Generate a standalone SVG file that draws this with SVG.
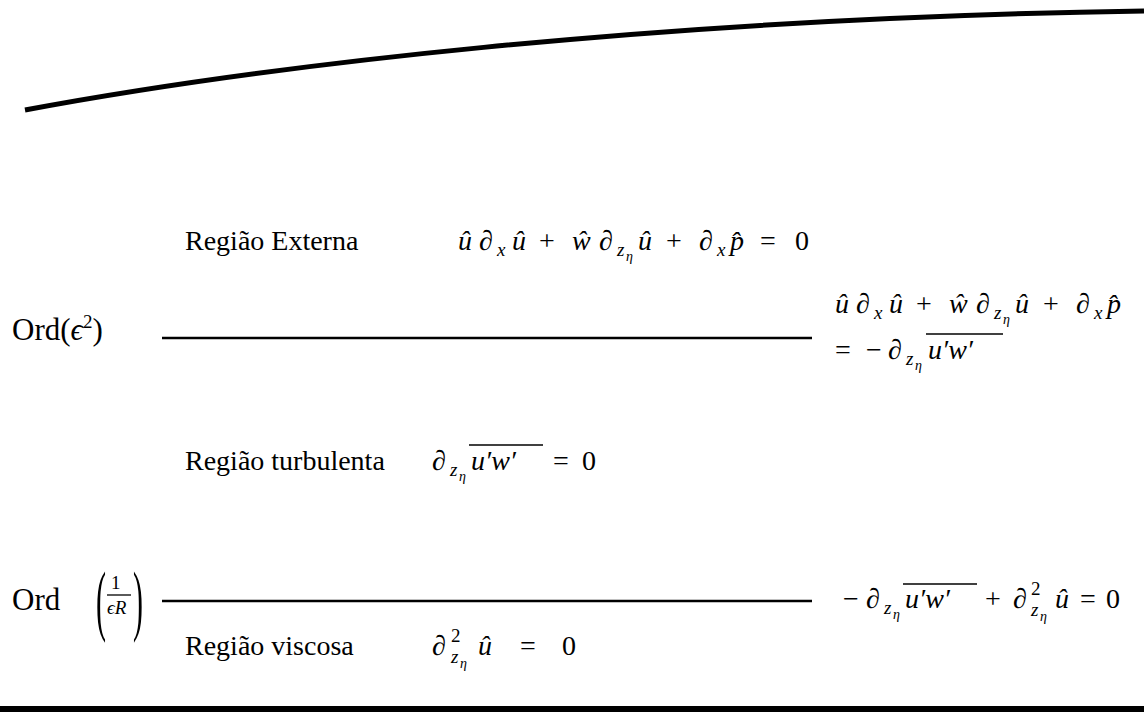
<svg xmlns="http://www.w3.org/2000/svg" width="1144" height="715" viewBox="0 0 1144 715">
<style>
text{font-family:"Liberation Serif","DejaVu Serif",serif;font-size:28px;fill:#000}
.i{font-style:italic}
.s{font-size:19px}
.ss{font-size:14px}
.f{font-size:19px}
.o{font-size:31px}
.ln{stroke:#000;fill:none}
</style>
<rect width="1144" height="715" fill="#fff"/>
<g id="connectors">
<path class="ln" d="M25,110 C250,68 650,18 1144,11" stroke-width="5"/>
<line class="ln" x1="162" y1="338" x2="812" y2="338" stroke-width="2.5"/>
<line class="ln" x1="162" y1="601" x2="812" y2="601" stroke-width="2.5"/>
<line class="ln" x1="0" y1="709" x2="1144" y2="709" stroke-width="6"/>
</g>
<g id="regiao-externa">
<text x="185" y="250">Região Externa</text>
<text y="250"><tspan class="i" x="458">û</tspan><tspan x="479">∂</tspan><tspan class="i s" x="497" y="256">x</tspan><tspan class="i" x="512" y="250">û</tspan><tspan x="539">+</tspan><tspan class="i" x="572">ŵ</tspan><tspan x="599">∂</tspan><tspan class="i s" x="617" y="256">z</tspan><tspan class="i ss" x="626" y="261">η</tspan><tspan class="i" x="638" y="250">û</tspan><tspan x="666">+</tspan><tspan x="699">∂</tspan><tspan class="i s" x="717" y="256">x</tspan><tspan class="i" x="730" y="250">p̂</tspan><tspan x="760">=</tspan><tspan x="795">0</tspan></text>
</g>
<g id="ord-eps2">
<text x="12" y="340" class="o">Ord(<tspan class="i">ϵ</tspan><tspan class="s" dy="-12">2</tspan><tspan dy="12">)</tspan></text>
</g>
<g id="eq-eps2">
<text y="313"><tspan class="i" x="835">û</tspan><tspan x="856">∂</tspan><tspan class="i s" x="874" y="319">x</tspan><tspan class="i" x="889" y="313">û</tspan><tspan x="916">+</tspan><tspan class="i" x="949">ŵ</tspan><tspan x="976">∂</tspan><tspan class="i s" x="994" y="319">z</tspan><tspan class="i ss" x="1003" y="324">η</tspan><tspan class="i" x="1015" y="313">û</tspan><tspan x="1043">+</tspan><tspan x="1076">∂</tspan><tspan class="i s" x="1094" y="319">x</tspan><tspan class="i" x="1107" y="313">p̂</tspan></text>
<text y="359"><tspan x="835">=</tspan><tspan x="866">−</tspan><tspan x="888">∂</tspan><tspan class="i s" x="906" y="365">z</tspan><tspan class="i ss" x="915" y="370">η</tspan><tspan class="i" x="928" y="359">u′w′</tspan></text>
<line class="ln" x1="926" y1="334" x2="1003" y2="334" stroke-width="1.6"/>
</g>
<g id="regiao-turbulenta">
<text x="185" y="470">Região turbulenta</text>
<text y="470"><tspan x="432">∂</tspan><tspan class="i s" x="450" y="476">z</tspan><tspan class="i ss" x="459" y="481">η</tspan><tspan class="i" x="471" y="470">u′w′</tspan><tspan x="553">=</tspan><tspan x="582">0</tspan></text>
<line class="ln" x1="469" y1="445" x2="543" y2="445" stroke-width="1.6"/>
</g>
<g id="ord-eR">
<text x="12" y="610" class="o">Ord</text>
<text transform="translate(96,626) scale(1,2.6)" style="font-size:30px">(</text>
<text x="111" y="589" class="f">1</text>
<line class="ln" x1="107" y1="595" x2="131" y2="595" stroke-width="1.3"/>
<text x="107" y="614" class="f i">ϵR</text>
<text transform="translate(133,626) scale(1,2.6)" style="font-size:30px">)</text>
</g>
<g id="eq-eR">
<text y="608"><tspan x="843">−</tspan><tspan x="866">∂</tspan><tspan class="i s" x="884" y="614">z</tspan><tspan class="i ss" x="893" y="619">η</tspan><tspan class="i" x="905" y="608">u′w′</tspan><tspan x="985">+</tspan><tspan x="1013">∂</tspan><tspan class="s" x="1031" y="595">2</tspan><tspan class="i s" x="1031" y="616">z</tspan><tspan class="i ss" x="1040" y="621">η</tspan><tspan class="i" x="1055" y="608">û</tspan><tspan x="1080">=</tspan><tspan x="1106">0</tspan></text>
<line class="ln" x1="903" y1="584" x2="977" y2="584" stroke-width="1.6"/>
</g>
<g id="regiao-viscosa">
<text x="185" y="655">Região viscosa</text>
<text y="655"><tspan x="432">∂</tspan><tspan class="s" x="451" y="642">2</tspan><tspan class="i s" x="451" y="663">z</tspan><tspan class="i ss" x="460" y="668">η</tspan><tspan class="i" x="478" y="655">û</tspan><tspan x="520">=</tspan><tspan x="562">0</tspan></text>
</g>
</svg>
